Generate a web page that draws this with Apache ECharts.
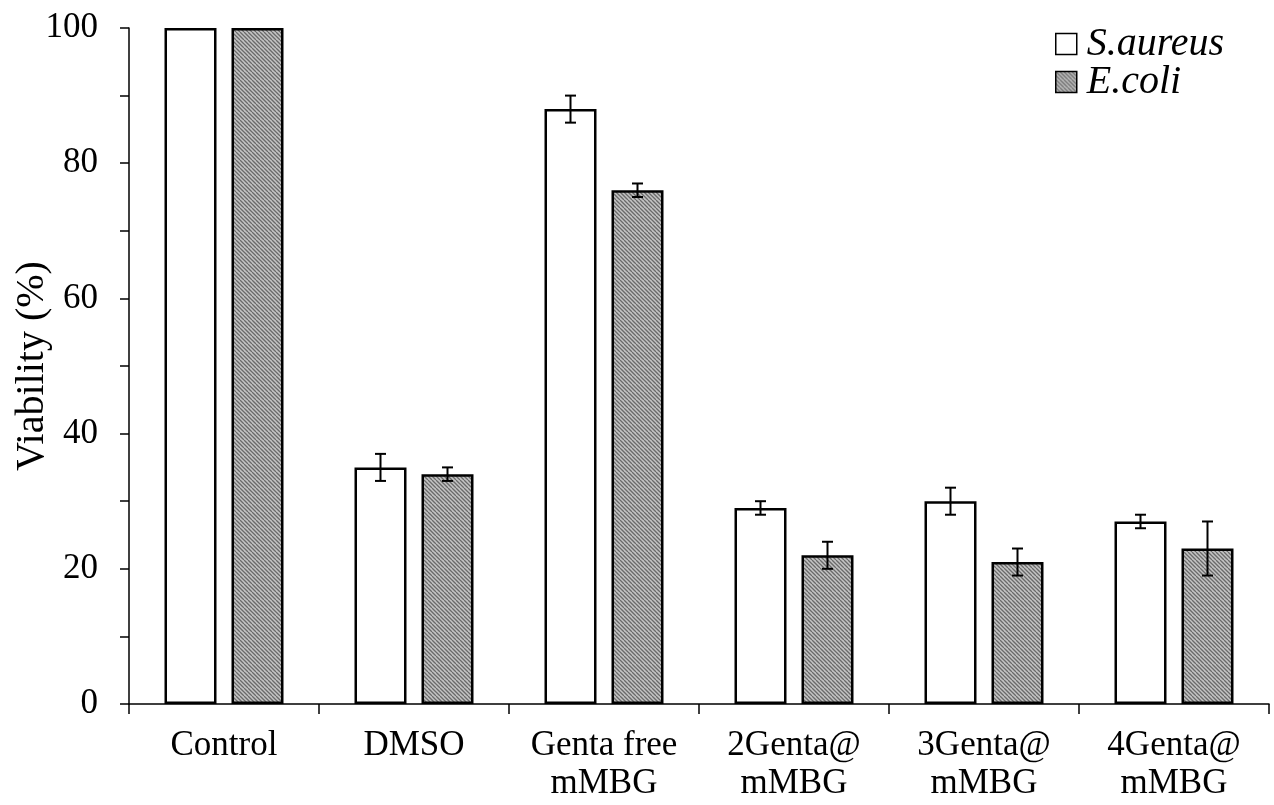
<!DOCTYPE html>
<html>
<head>
<meta charset="utf-8">
<script src="https://cdn.jsdelivr.net/npm/echarts@6/dist/echarts.min.js"></script>
<style>html,body{margin:0;padding:0;background:#fff}#c{width:1274px;height:805px}</style>
</head>
<body>
<div id="c"></div>
<script>
var categories = ['Control', 'DMSO', 'Genta free\nmMBG', '2Genta@\nmMBG', '3Genta@\nmMBG', '4Genta@\nmMBG'];
var saureus = [100, 35, 88, 29, 30, 27];
var saureusErr = [0, 2, 2, 1, 2, 1];
var ecoli = [100, 34, 76, 22, 21, 23];
var ecoliErr = [0, 1, 1, 2, 2, 4];
var yTicks = [0, 20, 40, 60, 80, 100];

var FONT = '"Liberation Serif", "Times New Roman", serif';
var BAR_W = 52, GAP = 15;

function hatch() {
  var c = document.createElement('canvas');
  c.width = 8; c.height = 8;
  var g = c.getContext('2d');
  g.fillStyle = '#c4c4c4';
  g.fillRect(0, 0, 8, 8);
  g.strokeStyle = '#6a6a6a';
  g.lineWidth = 1.3;
  for (var x0 = -8; x0 <= 8; x0 += 4) {
    g.beginPath();
    g.moveTo(x0, 0);
    g.lineTo(x0 + 8, 8);
    g.stroke();
  }
  return c;
}
var hatchFill = { image: hatch(), repeat: 'repeat' };

function errData(vals, errs) {
  var out = [];
  for (var i = 0; i < vals.length; i++) if (errs[i] > 0) out.push([i, vals[i], errs[i]]);
  return out;
}

function errRender(sign) {
  return function (params, api) {
    var i = api.value(0), v = api.value(1), e = api.value(2);
    var off = sign * (BAR_W + GAP) / 2;
    var top = api.coord([i, v + e]);
    var bot = api.coord([i, v - e]);
    var x = top[0] + off;
    var cw = 5.5;
    var st = { stroke: '#000', lineWidth: 2 };
    return {
      type: 'group',
      children: [
        { type: 'line', shape: { x1: x, y1: top[1], x2: x, y2: bot[1] }, style: st },
        { type: 'line', shape: { x1: x - cw, y1: top[1], x2: x + cw, y2: top[1] }, style: st },
        { type: 'line', shape: { x1: x - cw, y1: bot[1], x2: x + cw, y2: bot[1] }, style: st }
      ]
    };
  };
}

var chart = echarts.init(document.getElementById('c'), null, { renderer: 'canvas' });
chart.setOption({
  animation: false,
  backgroundColor: '#fff',
  grid: { left: 129, right: 5, top: 28, bottom: 101, containLabel: false, outerBoundsMode: 'none' },
  legend: {
    left: 1055, top: 24, orient: 'vertical', padding: 0,
    itemWidth: 21, itemHeight: 21, itemGap: -2,
    textStyle: { fontFamily: FONT, fontSize: 40, lineHeight: 38, fontStyle: 'italic', color: '#000', padding: [0, 0, 0, 5] },
    data: [
      { name: 'S.aureus', icon: 'rect', itemStyle: { color: '#fff', borderColor: '#000', borderWidth: 1.5 } },
      { name: 'E.coli', icon: 'rect', itemStyle: { color: hatchFill, borderColor: '#000', borderWidth: 1.5 } }
    ]
  },
  xAxis: {
    type: 'category',
    data: categories,
    axisLine: { lineStyle: { color: '#000', width: 1.5 } },
    axisTick: { show: true, length: 10, lineStyle: { color: '#000', width: 1.5 } },
    axisLabel: { color: '#000', fontFamily: FONT, fontSize: 35, lineHeight: 38, margin: 23, interval: 0 },
    splitLine: { show: false }
  },
  yAxis: {
    type: 'value', min: 0, max: 100, interval: 10,
    name: 'Viability (%)', nameLocation: 'middle', nameGap: 77, nameRotate: 90, nameMoveOverlap: false,
    nameTextStyle: { color: '#000', fontFamily: FONT, fontSize: 40 },
    axisLine: { show: true, lineStyle: { color: '#000', width: 1.5 } },
    axisTick: { show: true, length: 9, lineStyle: { color: '#000', width: 1.5 } },
    axisLabel: {
      color: '#000', fontFamily: FONT, fontSize: 35, margin: 31,
      formatter: function (v) { return yTicks.indexOf(v) >= 0 ? String(v) : ''; }
    },
    splitLine: { show: false }
  },
  series: [
    {
      name: 'S.aureus', type: 'bar', data: saureus, barWidth: BAR_W, barGap: (GAP / BAR_W * 100) + '%',
      itemStyle: { color: '#fff', borderColor: '#000', borderWidth: 2.5 }
    },
    {
      name: 'E.coli', type: 'bar', data: ecoli, barWidth: BAR_W,
      itemStyle: { color: hatchFill, borderColor: '#000', borderWidth: 2.5 }
    },
    { type: 'custom', data: errData(saureus, saureusErr), renderItem: errRender(-1), z: 10 },
    { type: 'custom', data: errData(ecoli, ecoliErr), renderItem: errRender(1), z: 10 }
  ]
});
</script>
</body>
</html>
